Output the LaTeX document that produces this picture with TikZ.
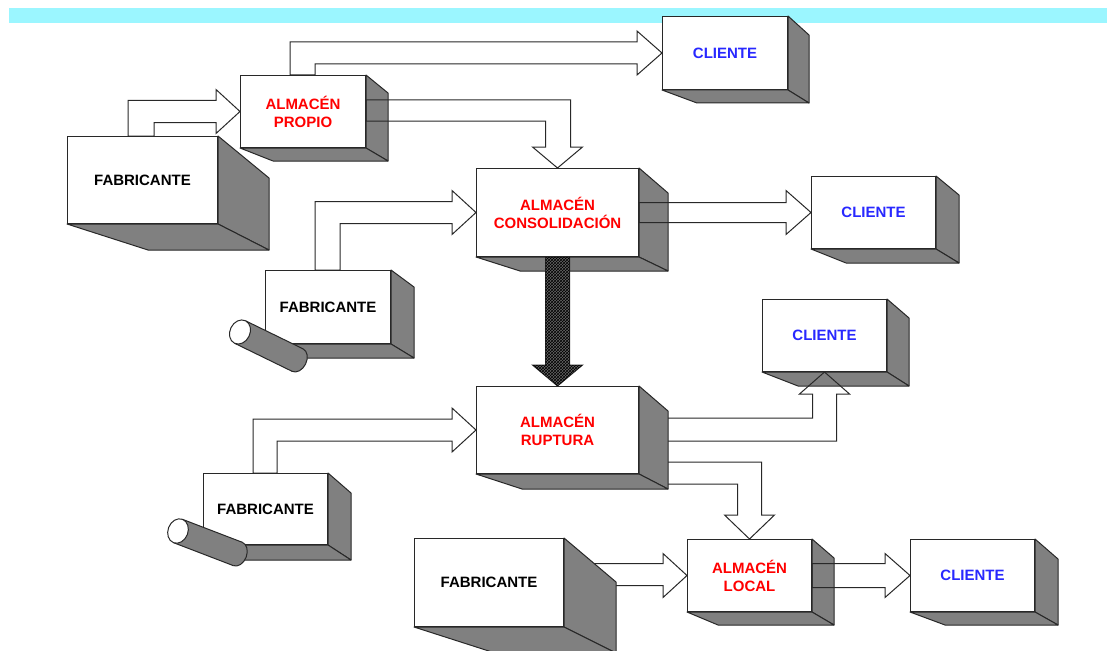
\documentclass[tikz,border=0pt]{standalone}
\usepackage{fontspec}
\setmainfont{Liberation Sans}
\usetikzlibrary{
    calc,
    patterns
}
\definecolor{barCyan}{RGB}{155, 246, 255}
\definecolor{faceGray}{RGB}{128, 128, 128}
\definecolor{edgeDark}{RGB}{40, 40, 40}
\definecolor{storeRed}{RGB}{255, 0, 0}
\definecolor{clientBlue}{RGB}{40, 40, 255}
\tikzset{
    front/.style={
        rectangle,
        draw=edgeDark,
        line width=1pt,
        fill=white,
        anchor=north west,
        inner sep=0pt,
        align=center,
        font=\fontsize{15}{18}\selectfont\bfseries
    },
    dims/.style 2 args={
        minimum width=#1pt,
        minimum height=#2pt
    },
    maker/.style={front, text=black},
    store/.style={front, text=storeRed},
    client/.style={front, text=clientBlue},
    face/.style={
        fill=faceGray,
        draw=edgeDark,
        line width=1pt,
        line join=round
    },
    hollow/.style={
        draw=edgeDark,
        line width=1pt,
        line join=miter
    },
    hatched/.style={
        draw=edgeDark,
        line width=1pt,
        fill=black!60,
        postaction={pattern=crosshatch, pattern color=black}
    },
    % Pipe lying in front of a fabricante
    pipe/.pic={
        \filldraw[face] (64,0) ellipse[x radius=9, y radius=12.5];
        \fill[faceGray] (0,-12.5) rectangle (64,12.5);
        \draw[edgeDark, line width=1pt] (0,-12.5) -- (64,-12.5) (0,12.5) -- (64,12.5);
        \filldraw[fill=white, draw=edgeDark, line width=1pt] (0,0) ellipse[x radius=10, y radius=12.5];
    }
}
\begin{document}
\begin{tikzpicture}[x=1pt, y=-1pt]
    \useasboundingbox (0,0) rectangle (1107,650);
    \fill[barCyan] (9,8) rectangle (1107,23);

    % Front faces
    \node[maker, dims={150}{87}] (fab1) at (67,136) {FABRICANTE};
    \node[store, dims={125}{72}] (propio) at (240,75) {ALMAC\'EN\\PROPIO};
    \node[client, dims={125}{73}] (cli1) at (662,16) {CLIENTE};
    \node[store, dims={162}{88}] (consol) at (476,168) {ALMAC\'EN\\CONSOLIDACI\'ON};
    \node[client, dims={124}{72}] (cli2) at (811,176) {CLIENTE};
    \node[maker, dims={125}{73}] (fab2) at (265,270) {FABRICANTE};
    \node[client, dims={124}{72}] (cli3) at (762,299) {CLIENTE};
    \node[store, dims={162}{87}] (rupt) at (476,386) {ALMAC\'EN\\RUPTURA};
    \node[maker, dims={124}{71}] (fab3) at (203,473) {FABRICANTE};
    \node[maker, dims={149}{88}] (fab4) at (414,538) {FABRICANTE};
    \node[store, dims={124}{72}] (local) at (687,539) {ALMAC\'EN\\LOCAL};
    \node[client, dims={124}{72}] (cli4) at (910,539) {CLIENTE};

    % Side and bottom faces
    \foreach \n/\dx/\dt/\db/\dl in {fab1/51/42/26/81, propio/22/18/13/33, cli1/21/19/13/35,
        consol/29/25/14/44, cli2/23/19/14/35, fab2/23/17/14/36, cli3/22/19/14/36,
        fab3/23/20/15/36, local/22/19/13/31, cli4/23/20/13/35} {
        \filldraw[face] (\n.north east) -- ++(\dx,\dt) -- ($(\n.south east)+(\dx,\db)$) -- (\n.south east) -- cycle;
        \filldraw[face] (\n.south west) -- ($(\n.south west)+(\dl,\db)$) -- ($(\n.south east)+(\dx,\db)$) -- (\n.south east) -- cycle;
    }

    % Hollow arrows
    \draw[hollow] (propio.west) -- ++(-24,-22) -- ++(0,11) -| ($(fab1.north west)+(61,0)$) -- ++(26,0) |- ($(propio.west)+(-24,11)$) -- ++(0,11) -- cycle;
    \draw[hollow] (cli1.west) -- ++(-25,-22) -- ++(0,11) -| ($(propio.north west)+(50,0)$) -- ++(25,0) |- ($(cli1.west)+(-25,11)$) -- ++(0,11) -- cycle;
    \draw[hollow] (consol.north) -- ++(25,-21) -- ++(-12,0) |- ($(propio.north east)+(0,25)$) -- ++(0,21) -| ($(consol.north)+(-12,-21)$) -- ++(-13,0) -- cycle;
    \draw[hollow] (consol.west) -- ++(-24,-22) -- ++(0,11) -| ($(fab2.north west)+(50,0)$) -- ++(25,0) |- ($(consol.west)+(-24,11)$) -- ++(0,11) -- cycle;
    \draw[hollow] (cli2.west) -- ++(-25,-22) -- ++(0,12) -- ($(consol.east)+(0,-10)$) -- ++(0,20) -- ($(cli2.west)+(-25,10)$) -- ++(0,12) -- cycle;
    \draw[hollow] (rupt.west) -- ++(-24,-22) -- ++(0,11) -| ($(fab3.north west)+(50,0)$) -- ++(24,0) |- ($(rupt.west)+(-24,11)$) -- ++(0,11) -- cycle;
    \draw[hollow] (cli3.south) -- ++(-25,22) -- ++(13,0) |- ($(rupt.north east)+(0,32)$) -- ++(0,23) -| ($(cli3.south)+(12,22)$) -- ++(13,0) -- cycle;
    \draw[hollow] (local.north) -- ++(25,-24) -- ++(-13,0) |- ($(rupt.north east)+(0,76)$) -- ++(0,22) -| ($(local.north)+(-12,-24)$) -- ++(-13,0) -- cycle;
    \draw[hollow] (local.west) -- ++(-24,-22) -- ++(0,10) -- ($(fab4.east)+(0,-19)$) -- ++(0,22) -- ($(local.west)+(-24,10)$) -- ++(0,12) -- cycle;
    \draw[hollow] (cli4.west) -- ++(-25,-22) -- ++(0,10) -- ($(local.east)+(0,-12)$) -- ++(0,24) -- ($(cli4.west)+(-25,12)$) -- ++(0,10) -- cycle;

    % Faces that hide the arrow roots
    \foreach \n/\dx/\dt/\db/\dl in {rupt/29/25/15/46, fab4/52/44/26/81} {
        \filldraw[face] (\n.north east) -- ++(\dx,\dt) -- ($(\n.south east)+(\dx,\db)$) -- (\n.south east) -- cycle;
        \filldraw[face] (\n.south west) -- ($(\n.south west)+(\dl,\db)$) -- ($(\n.south east)+(\dx,\db)$) -- (\n.south east) -- cycle;
    }

    % Consolidacion -> ruptura
    \draw[hatched] ($(consol.south)+(-12,0)$) -- ($(rupt.north)+(-12,-21)$) -- ++(-13,0) -- (rupt.north) -- ++(25,-21) -- ++(-13,0) -- ($(consol.south)+(12,0)$) -- cycle;

    % Pipes
    \pic[rotate=-26] at (240,332) {pipe};
    \pic[rotate=-21] at (178,531) {pipe};
\end{tikzpicture}
\end{document}
